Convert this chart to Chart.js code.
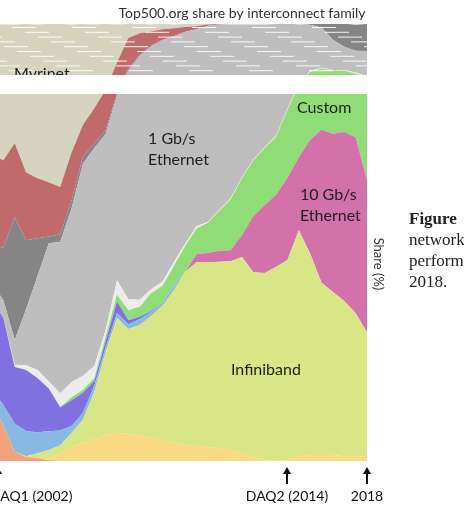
<!DOCTYPE html>
<html>
<head>
<meta charset="utf-8">
<script src="https://cdn.jsdelivr.net/npm/chart.js@4/dist/chart.umd.min.js"></script>
<style>
  html, body { margin: 0; padding: 0; background: #fff; overflow: hidden; }
  body { width: 464px; height: 516px; position: relative; }
  #chart { position: absolute; left: -8px; top: 0; }
  .yname { position: absolute; left: 379px; top: 264px; transform: translate(-50%, -50%) rotate(90deg);
           font: 13px Lato, sans-serif; color: #333; white-space: nowrap; }
  .caption { position: absolute; left: 409px; top: 208px; font: 17px "Liberation Serif", serif;
             line-height: 21px; color: #222; white-space: nowrap; }
  .caption b { font-weight: bold; }
</style>
</head>
<body>
<canvas id="chart" width="400" height="516"></canvas>
<div class="yname">Share (%)</div>
<div class="caption"><b>Figure</b><br>network<br>perform<br>2018.</div>
<script>
// Top500 lists (semiannual), share of systems per interconnect family (%)
const LISTS = ["2001-11", "2002-06", "2002-11", "2003-06", "2003-11", "2004-06", "2004-11", "2005-06", "2005-11",
  "2006-06", "2006-11", "2007-06", "2007-11", "2008-06", "2008-11", "2009-06", "2009-11", "2010-06", "2010-11",
  "2011-06", "2011-11", "2012-06", "2012-11", "2013-06", "2013-11", "2014-06", "2014-11", "2015-06", "2015-11",
  "2016-06", "2016-11", "2017-06", "2017-11", "2018-06"];

const fastEth    = [12.8, 8.2, 2.1, 0.9, 0.7, 0.2, 0, 0, 0, 0, 0, 0, 0, 0, 0, 0, 0, 0, 0, 0, 0, 0, 0, 0, 0, 0, 0, 0, 0, 0, 0, 0, 0, 0];
const cray       = [0, 0, 0, 0, 0, 0.2, 1.8, 3.2, 4.1, 5.0, 5.9, 6.4, 6.2, 5.9, 5.5, 4.8, 4.1, 3.7, 3.4, 3.2, 3.0, 2.5, 1.8, 0.9, 0.2, 0, 0.2, 0.9, 1.4, 1.4, 1.4, 1.1, 1.1, 0.9];
const infiniband = [0, 0, 0, 0.2, 1.1, 2.1, 1.8, 3.2, 5.3, 10.8, 19.0, 26.3, 24.0, 25.2, 27.7, 30.7, 35.0, 39.6, 42.1, 42.3, 42.6, 43.2, 44.9, 42.3, 42.8, 44.4, 45.8, 51.9, 46.0, 39.4, 37.3, 35.5, 32.7, 28.6];
const tenGigE    = [0, 0, 0, 0, 0, 0, 0, 0, 0, 0, 0, 0, 0, 0, 0, 0, 0, 0, 1.8, 2.1, 2.5, 2.5, 5.0, 12.8, 15.6, 16.5, 18.8, 16.7, 26.1, 35.0, 36.2, 38.7, 40.3, 34.8];
const crossbar   = [3.4, 4.6, 6.4, 5.7, 4.8, 4.3, 3.4, 1.6, 1.6, 1.4, 1.1, 1.1, 1.1, 1.4, 0.9, 0.7, 0.9, 0.2, 0, 0, 0, 0, 0, 0, 0, 0, 0, 0, 0, 0, 0, 0, 0, 0];
const spSwitch   = [20.6, 19.9, 13.0, 14.0, 12.4, 9.8, 5.3, 5.9, 4.6, 1.1, 1.4, 2.7, 0.9, 0.5, 0.2, 0, 0, 0, 0, 0, 0, 0, 0, 0, 0, 0, 0, 0, 0, 0, 0, 0, 0, 0];
const custom     = [0, 0, 0, 0, 0, 0, 0, 0.7, 0.7, 0.7, 1.1, 1.6, 2.3, 2.3, 4.1, 3.9, 4.6, 5.7, 5.9, 6.9, 9.2, 11.7, 13.0, 12.8, 13.0, 13.3, 15.6, 16.5, 15.6, 14.0, 14.4, 14.0, 14.6, 23.6];
const mixed      = [0, 0, 0.5, 1.1, 1.8, 1.6, 3.2, 3.4, 3.2, 2.7, 1.4, 3.2, 2.5, 1.6, 0.9, 0.9, 0.9, 0.5, 0.5, 0.2, 0.2, 0.2, 0.2, 0.2, 0.2, 0.2, 0.2, 0.2, 0.2, 0.2, 0.2, 0.2, 0.2, 0.2];
const gigE       = [3.9, 4.1, 5.7, 12.8, 21.5, 31.6, 34.6, 39.8, 48.5, 49.9, 44.9, 42.3, 52.4, 55.8, 55.6, 55.3, 51.7, 48.5, 45.1, 44.9, 42.4, 39.8, 35.0, 30.9, 28.1, 25.6, 19.5, 13.7, 10.5, 9.2, 6.9, 5.3, 5.0, 5.7];
const otherNet   = [7.6, 12.1, 28.1, 15.8, 8.7, 1.6, 1.8, 1.8, 1.6, 1.1, 0.9, 0.5, 0.5, 0.2, 0.2, 0.1, 0, 0, 0, 0, 0, 0, 0, 0, 0, 0, 0, 0, 0.2, 0.9, 3.7, 5.3, 5.9, 6.2];
const quadrics   = [21.7, 19.9, 16.9, 15.6, 13.7, 12.4, 10.8, 11.0, 7.3, 8.0, 9.2, 7.1, 6.9, 5.0, 3.2, 2.4, 1.8, 1.1, 0.7, 0.3, 0.1, 0, 0, 0, 0, 0, 0, 0, 0, 0, 0, 0, 0, 0];
const myrinet    = [30.0, 31.1, 27.2, 33.9, 35.2, 36.2, 37.3, 29.3, 23.1, 19.2, 15.1, 8.7, 3.2, 2.1, 1.6, 1.3, 0.9, 0.7, 0.5, 0.1, 0, 0, 0, 0, 0, 0, 0, 0, 0, 0, 0, 0, 0, 0];

// bottom of the stack first
const SERIES = [
  ["Fast Ethernet", fastEth, "#f2a27a"],
  ["Cray", cray, "#f9d981"],
  ["Infiniband", infiniband, "#d8e686"],
  ["10 Gb/s Ethernet", tenGigE, "#d371aa"],
  ["Crossbar", crossbar, "#88b9e2"],
  ["SP Switch", spSwitch, "#8070e0"],
  ["Custom", custom, "#90dc77"],
  ["Mixed", mixed, "#ececec"],
  ["1 Gb/s Ethernet", gigE, "#bebebe"],
  ["Other", otherNet, "#858585"],
  ["Quadrics", quadrics, "#c16a6b"],
  ["Myrinet", myrinet, "#d6d3be"],
];

// area labels: anchored at a list index and a share value
const AREA_LABELS = [
  { lines: ["Myrinet"], at: 1.94, pct: 88.6 },
  { lines: ["Custom"], at: 26.84, pct: 80.8 },
  { lines: ["1 Gb/s", "Ethernet"], at: 13.73, pct: 73.7 },
  { lines: ["10 Gb/s", "Ethernet"], at: 27.1, pct: 60.9 },
  { lines: ["Infiniband"], at: 21.03, pct: 20.8 },
];
// arrows under the plot; "at" is a list index (0.5 = between two lists)
const MARKERS = [
  { text: "DAQ1 (2002)", at: 0.5, dx: -8, align: "left" },
  { text: "DAQ2 (2014)", at: 26, dx: 0, align: "center" },
  { text: "2018", at: 33, dx: 0, align: "center" },
];

const decor = {
  id: "decor",
  afterDatasetsDraw(chart) {
    const { ctx, chartArea: area, scales: { x, y } } = chart;
    ctx.save();
    // faint white streaks over the top of the plot
    ctx.strokeStyle = "rgba(255,255,255,0.9)";
    ctx.lineWidth = 1;
    for (let row = 0; row < 10; row++) {
      const yy = area.top + 3.5 + row * 4.8;
      for (let xx = area.left - 40 + (row * 13) % 60; xx < area.right; xx += 60) {
        ctx.beginPath();
        ctx.moveTo(xx, yy);
        ctx.lineTo(xx + 24, yy);
        ctx.stroke();
      }
    }
    ctx.fillStyle = "#1e1e1e";
    ctx.font = "16px Lato";
    ctx.textAlign = "left";
    ctx.textBaseline = "middle";
    AREA_LABELS.forEach((l) => {
      const px = x.getPixelForValue(l.at);
      const py = y.getPixelForValue(l.pct);
      l.lines.forEach((line, i) => ctx.fillText(line, px, py + i * 20.5));
    });
    // white legend strip across the top of the plot
    ctx.fillStyle = "#fff";
    ctx.fillRect(area.left, area.top + 51, area.right - area.left, 19);
    ctx.restore();
  },
  afterDraw(chart) {
    const { ctx, chartArea: area, scales: { x } } = chart;
    ctx.save();
    ctx.fillStyle = "#333";
    ctx.font = "14px Lato";
    ctx.textAlign = "center";
    ctx.textBaseline = "alphabetic";
    ctx.fillText("Top500.org share by interconnect family", 250, 18);

    ctx.fillStyle = "#111";
    ctx.strokeStyle = "#111";
    ctx.lineWidth = 2;
    MARKERS.forEach((m) => {
      const px = Math.round(x.getPixelForValue(m.at));
      const tip = area.bottom + 6;
      ctx.beginPath();
      ctx.moveTo(px, tip + 5);
      ctx.lineTo(px, tip + 17);
      ctx.stroke();
      ctx.beginPath();
      ctx.moveTo(px, tip);
      ctx.lineTo(px - 4, tip + 7);
      ctx.lineTo(px + 4, tip + 7);
      ctx.closePath();
      ctx.fill();
      ctx.font = "14px Lato";
      ctx.textAlign = m.align;
      ctx.fillText(m.text, px + m.dx, area.bottom + 40);
    });
    ctx.restore();
  },
};

new Chart(document.getElementById("chart"), {
  type: "line",
  data: {
    labels: LISTS,
    datasets: SERIES.map(([label, data, color], i) => ({
      label, data,
      backgroundColor: color, borderColor: color, borderWidth: 0,
      fill: i === 0 ? "origin" : "-1",
      pointRadius: 0, tension: 0,
    })),
  },
  options: {
    responsive: false,
    animation: false,
    events: [],
    layout: { padding: { top: 24, bottom: 55, left: 0, right: 25 } },
    scales: {
      x: { display: false, offset: false },
      y: { display: false, stacked: true, min: 0, max: 100 },
    },
    plugins: { legend: { display: false }, tooltip: { enabled: false } },
  },
  plugins: [decor],
});
</script>
</body>
</html>
